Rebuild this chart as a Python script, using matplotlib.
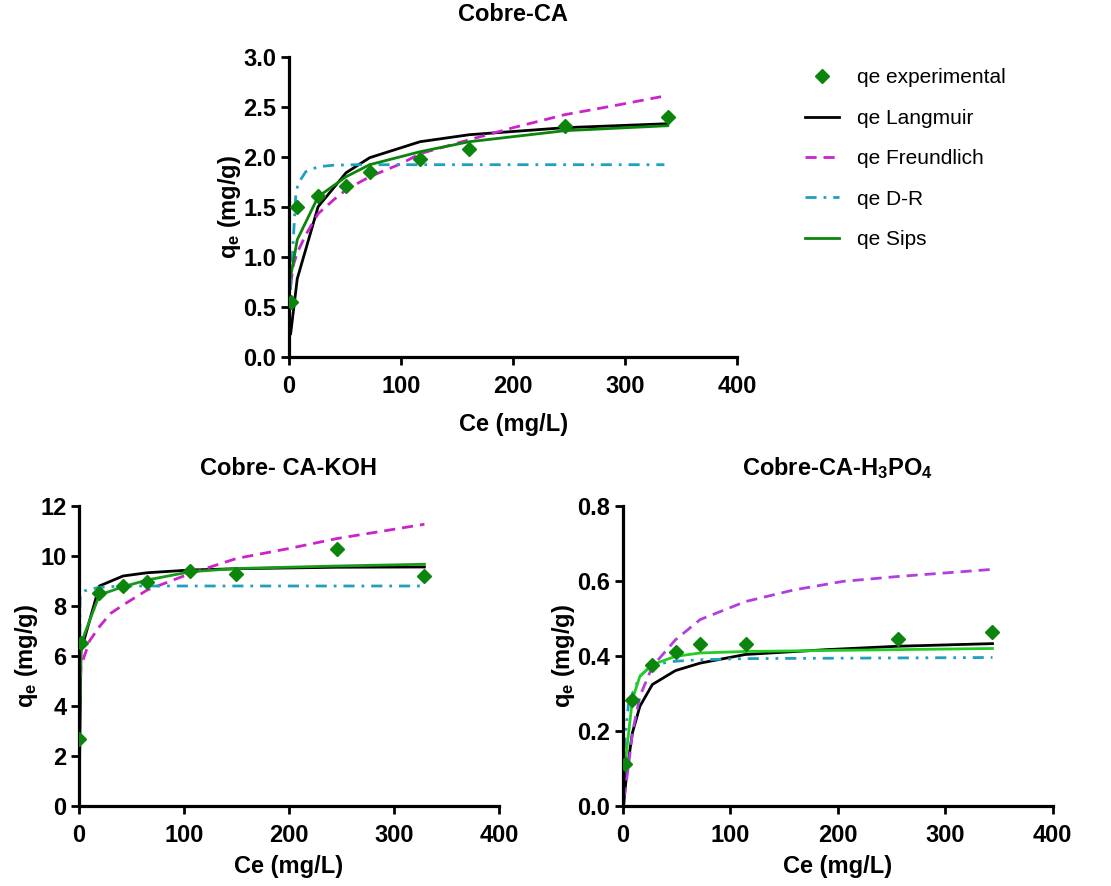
import matplotlib
matplotlib.use("Agg")
import matplotlib.pyplot as plt
from matplotlib.ticker import MultipleLocator, FormatStrFormatter

plt.rcParams["font.family"] = ["Liberation Sans", "DejaVu Sans"]
plt.rcParams["mathtext.fontset"] = "custom"
plt.rcParams["mathtext.rm"] = "Liberation Sans:bold"
plt.rcParams["mathtext.bf"] = "Liberation Sans:bold"
plt.rcParams["mathtext.default"] = "bf"

# Cobre-CA
ce_ca = [1.5, 7.4, 26, 51, 72, 117, 161, 246, 338]
exp_ca = [0.55, 1.50, 1.61, 1.71, 1.85, 1.98, 2.08, 2.31, 2.40]
lang_ca = [0.23, 0.78, 1.50, 1.84, 1.99, 2.15, 2.22, 2.29, 2.33]
sips_ca = [0.80, 1.17, 1.60, 1.80, 1.92, 2.05, 2.15, 2.26, 2.31]
freu_x_ca = [1.5, 4, 7.4, 15, 26, 40, 51, 72, 100, 117, 161, 200, 246, 290, 332]
freu_ca = [0.72, 0.92, 1.04, 1.22, 1.43, 1.57, 1.67, 1.80, 1.93, 2.03, 2.17, 2.29, 2.42, 2.51, 2.60]
dr_x_ca = [1.5, 4, 6, 8, 15, 26, 40, 60, 335]
dr_ca = [0.67, 1.20, 1.60, 1.73, 1.85, 1.90, 1.915, 1.92, 1.92]

# Cobre- CA-KOH
ce_koh = [0.1, 1.9, 19.4, 42, 65, 106, 150, 246, 329]
exp_koh = [2.67, 6.53, 8.51, 8.80, 8.97, 9.40, 9.27, 10.27, 9.21]
lang_koh = [0.2, 6.2, 8.8, 9.2, 9.33, 9.44, 9.49, 9.55, 9.56]
sips_koh = [2.5, 6.5, 8.44, 8.77, 9.04, 9.37, 9.5, 9.6, 9.67]
freu_x_koh = [0.1, 1.9, 10, 19.4, 30, 42, 65, 106, 150, 200, 246, 290, 329]
freu_koh = [3.7, 5.6, 6.6, 7.17, 7.7, 8.04, 8.64, 9.3, 9.9, 10.3, 10.7, 11.0, 11.27]
dr_x_koh = [0.3, 1, 1.9, 5, 19.4, 42, 329]
dr_koh = [3.5, 8.3, 8.5, 8.6, 8.75, 8.8, 8.8]

# Cobre-CA-H3PO4
ce_h3 = [2.2, 9, 27.6, 49.3, 71.9, 114.4, 255.8, 343.9]
exp_h3 = [0.111, 0.282, 0.375, 0.41, 0.432, 0.432, 0.446, 0.464]
lang_x_h3 = [0.8, 3.7, 9, 16, 27.6, 49, 72, 114, 190, 256, 344]
lang_h3 = [0.0, 0.089, 0.195, 0.266, 0.324, 0.361, 0.381, 0.404, 0.417, 0.426, 0.433]
sips_x_h3 = [2.2, 9, 16, 27.6, 49, 72, 114, 256, 344]
sips_h3 = [0.111, 0.284, 0.346, 0.377, 0.399, 0.408, 0.412, 0.417, 0.42]
freu_x_h3 = [1, 5, 9, 16, 27.6, 49, 72, 114, 159, 205, 256, 344]
freu_h3 = [0.02, 0.098, 0.195, 0.293, 0.372, 0.443, 0.497, 0.545, 0.576, 0.599, 0.612, 0.631]
dr_x_h3 = [0.6, 2.2, 5.3, 9, 16, 27.6, 49, 72, 114, 344]
dr_h3 = [0.053, 0.18, 0.27, 0.30, 0.346, 0.377, 0.386, 0.39, 0.393, 0.396]

green = "#0b850b"
lw = 2.0


def style(ax, title, ymax, ystep, fmt, tpad, xpad):
    ax.set_xlim(0, 400)
    ax.set_ylim(0, ymax)
    ax.xaxis.set_major_locator(MultipleLocator(100))
    ax.yaxis.set_major_locator(MultipleLocator(ystep))
    ax.yaxis.set_major_formatter(FormatStrFormatter(fmt))
    for s in ["top", "right"]:
        ax.spines[s].set_visible(False)
    for s in ["left", "bottom"]:
        ax.spines[s].set_linewidth(2.3)
    ax.tick_params(direction="out", length=6, width=2, labelsize=17, pad=3)
    ax.tick_params(axis="x", pad=7)
    for lab in ax.get_xticklabels() + ax.get_yticklabels():
        lab.set_fontweight("bold")
    ax.set_xlabel("Ce (mg/L)", fontsize=17, fontweight="bold", labelpad=xpad)
    ax.set_ylabel(r"q$_e$ (mg/g)", fontsize=17, fontweight="bold", labelpad=0)
    ax.set_title(title, fontsize=17, fontweight="bold", pad=tpad)


fig = plt.figure(figsize=(11.11, 8.86), dpi=100)
ax1 = fig.add_axes([0.2601, 0.5974, 0.4035, 0.3386])
ax2 = fig.add_axes([0.0711, 0.0903, 0.378, 0.3386])
ax3 = fig.add_axes([0.5605, 0.0903, 0.387, 0.3386])

# top
ax1.plot(ce_ca, exp_ca, "D", color=green, ms=7.5, label="qe experimental", zorder=5)
ax1.plot(ce_ca, lang_ca, "-", color="black", lw=lw, label="qe Langmuir")
ax1.plot(freu_x_ca, freu_ca, "--", color="#cc22cc", lw=lw, dashes=(4, 2.5), label="qe Freundlich")
ax1.plot(dr_x_ca, dr_ca, "-.", color="#1fa0bf", lw=lw, dashes=(4, 2.5, 1, 2.5), label="qe D-R")
ax1.plot(ce_ca, sips_ca, "-", color=green, lw=lw, label="qe Sips")
style(ax1, "Cobre-CA", 3.0, 0.5, "%.1f", 26, 11)

# bottom left
ax2.plot(ce_koh, exp_koh, "D", color=green, ms=7.5, zorder=5)
ax2.plot(ce_koh, lang_koh, "-", color="black", lw=lw)
ax2.plot(freu_x_koh, freu_koh, "--", color="#cc22cc", lw=lw, dashes=(4, 2.5))
ax2.plot(dr_x_koh, dr_koh, "-.", color="#1fa0bf", lw=lw, dashes=(4, 2.5, 1, 2.5))
ax2.plot(ce_koh, sips_koh, "-", color="#1a9a1a", lw=lw)
style(ax2, "Cobre- CA-KOH", 12, 2, "%d", 22, 6)

# bottom right
ax3.plot(ce_h3, exp_h3, "D", color=green, ms=7.5, zorder=5)
ax3.plot(lang_x_h3, lang_h3, "-", color="black", lw=lw)
ax3.plot(freu_x_h3, freu_h3, "--", color="#b03ee0", lw=lw, dashes=(4, 2.5))
ax3.plot(dr_x_h3, dr_h3, "-.", color="#1fa0bf", lw=lw, dashes=(4, 2.5, 1, 2.5, 1, 2.5))
ax3.plot(sips_x_h3, sips_h3, "-", color="#22cc22", lw=lw)
style(ax3, r"Cobre-CA-H$_3$PO$_4$", 0.8, 0.2, "%.1f", 22, 6)

h, l = ax1.get_legend_handles_labels()
fig.legend(h, l, loc="upper left", bbox_to_anchor=(0.708, 0.944), frameon=False,
           fontsize=15, handlelength=1.6, handletextpad=0.9, labelspacing=1.03)

fig.savefig("out.png", dpi=100)
